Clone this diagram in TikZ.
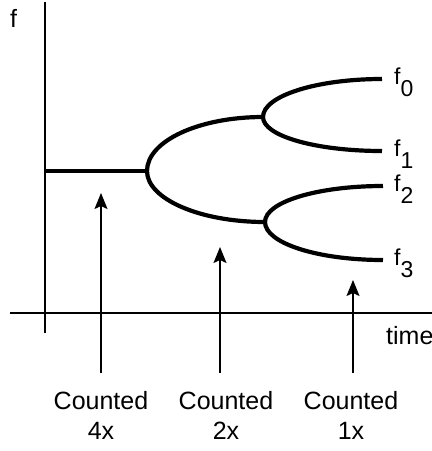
\documentclass[tikz,border=0pt]{standalone}
\usepackage{fontspec}
\setmainfont{Liberation Sans}
\usetikzlibrary{arrows.meta}
\begin{document}
\begin{tikzpicture}[x=1pt,y=-1pt,
  axis/.style={line width=2pt},
  branch/.style={line width=4.2pt},
  pointer/.style={line width=1.5pt,-{Stealth[length=16pt,width=13pt,inset=3pt]}},
  flab/.style={anchor=base west,inner sep=0pt,font=\fontsize{23}{27}\selectfont},
  cnt/.style={anchor=north,inner sep=0pt,align=center,font=\fontsize{25}{30}\selectfont}]
\useasboundingbox (0,0) rectangle (432,451);
% axes
\coordinate (ytop) at (45,2);
\coordinate (ybot) at (45,333);
\coordinate (xl) at (10,313);
\coordinate (xr) at (432,313);
\draw[axis] (ytop) -- (ybot);
\draw[axis] (xl) -- (xr);
\node[anchor=base west,inner sep=0pt,font=\fontsize{25}{30}\selectfont] (flabel) at (10,27) {f};
\node[anchor=base west,inner sep=0pt,font=\fontsize{25}{30}\selectfont] (tlabel) at (386,344) {time};
% tree
\coordinate (start) at (45,171);
\coordinate (b0) at (147,171);
\coordinate (bu) at (263,117);
\coordinate (bl) at (265,222);
\coordinate (e0) at (382,79);
\coordinate (e1) at (382,151);
\coordinate (e2) at (383,186);
\coordinate (e3) at (383,260);
\draw[branch] (start) -- (b0);
\draw[branch] (b0) .. controls (147,141) and (199,117) .. (bu);
\draw[branch] (b0) .. controls (147,199) and (200,222) .. (bl);
\draw[branch] (bu) .. controls (263,96) and (316,79) .. (e0);
\draw[branch] (bu) .. controls (263,136) and (316,151) .. (e1);
\draw[branch] (bl) .. controls (265,202) and (317,186) .. (e2);
\draw[branch] (bl) .. controls (265,243) and (317,260) .. (e3);
\node[flab] (f0) at (394,84) {f\raisebox{-12pt}{0}};
\node[flab] (f1) at (394,156) {f\raisebox{-12pt}{1}};
\node[flab] (f2) at (394,191) {f\raisebox{-12pt}{2}};
\node[flab] (f3) at (394,265) {f\raisebox{-12pt}{3}};
% pointers
\coordinate (a1b) at (101,373);
\coordinate (a1t) at (101,193);
\coordinate (a2b) at (220,373);
\coordinate (a2t) at (220,247);
\coordinate (a3b) at (353,373);
\coordinate (a3t) at (353,280);
\draw[pointer] (a1b) -- (a1t);
\draw[pointer] (a2b) -- (a2t);
\draw[pointer] (a3b) -- (a3t);
\node[cnt] (c1) at (101,391) {Counted\\4x};
\node[cnt] (c2) at (226,391) {Counted\\2x};
\node[cnt] (c3) at (351,391) {Counted\\1x};
\end{tikzpicture}
\end{document}
